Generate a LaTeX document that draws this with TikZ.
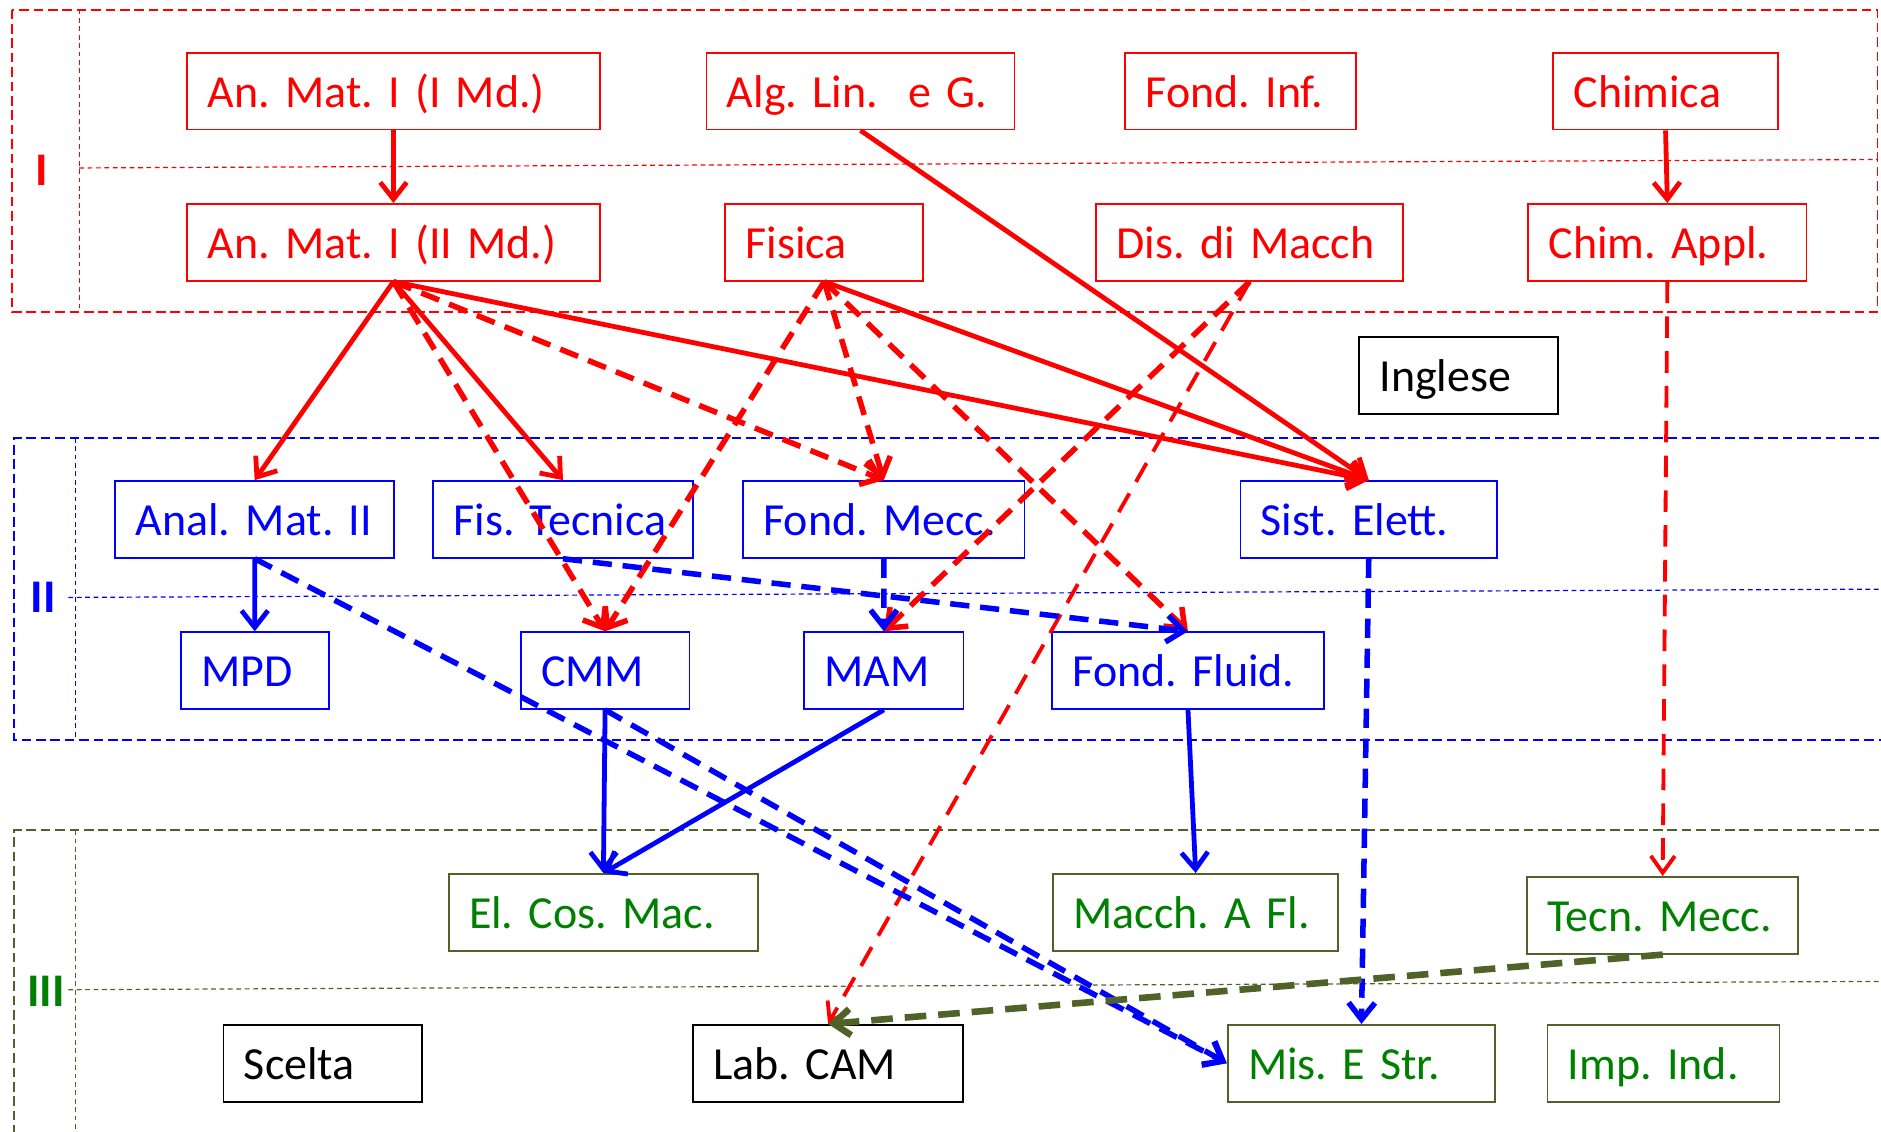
\documentclass[tikz,border=0pt]{standalone}
\usepackage{fontspec}
\setmainfont{Carlito}
\usetikzlibrary{arrows.meta}
\frenchspacing
\hyphenpenalty=10000
\exhyphenpenalty=10000

\definecolor{yearone}{RGB}{255,0,0}
\definecolor{yeartwo}{RGB}{0,0,255}
\definecolor{yearthree}{RGB}{0,128,0}
\definecolor{oliveline}{RGB}{79,98,40}

\begin{document}
\begin{tikzpicture}[x=1pt, y=-1pt,
		course/.style={draw, line width=1.5pt, minimum height=64pt, inner xsep=17pt, inner ysep=0pt,
			text width=#1, align=left, text height=27pt, text depth=0pt,
			font=\fontsize{38.3}{44}\selectfont},
		yearlabel/.style={font=\fontsize{39}{44}\selectfont\bfseries},
		yearframe/.style={line width=1.5pt, dash pattern=on 8pt off 4pt},
		yearsplit/.style={line width=1pt, dash pattern=on 4pt off 3pt},
		prereq/.style={line width=4pt, -{Straight Barb[length=14pt, width=22pt]}},
		suggest/.style={prereq, line width=4.6pt, dash pattern=on 16pt off 9pt},
		suggestthin/.style={line width=3.2pt, dash pattern=on 18pt off 11pt, -{Straight Barb[length=14pt, width=20pt]}}]
	\useasboundingbox (0,0) rectangle (1568,943);
	\clip (0,0) rectangle (1568,943);

	\begin{scope}[yearone]
		\draw [yearframe] (10,8) rectangle (1565,260);
		\draw [yearsplit] (66,8) -- (66,260);
		\draw [yearsplit] (66,140) -- (1565,133);
		\node [yearlabel] (yI) at (35,142) {I};
	\end{scope}

	\begin{scope}[yeartwo]
		\draw [yearframe] (1590,365) -- (12,365) -- (12,617) -- (1590,617);
		\draw [yearsplit] (63,365) -- (63,617);
		\draw [yearsplit] (57,498) -- (1590,491);
		\node [yearlabel] (yII) at (36,498) {II};
	\end{scope}

	\begin{scope}[oliveline]
		\draw [yearframe] (1590,692) -- (12,692) -- (12,960);
		\draw [yearsplit] (63,692) -- (63,960);
		\draw [yearsplit] (57,825) -- (1590,818);
		\node [yearlabel, yearthree] (yIII) at (38.5,826) {III};
	\end{scope}

	\begin{scope}[yearone]
		\node [course=310pt] (anmatA) at (328,76) {An. Mat. I (I Md.)};
		\node [course=222.6pt] (alglin) at (717.3,76) {Alg. Lin.~~e G.};
		\node [course=158.6pt] (fondinf) at (1034.3,76) {Fond. Inf.};
		\node [course=153.3pt] (chimica) at (1388.4,76) {Chimica};
		\node [course=310pt] (anmatB) at (328,202) {An. Mat. I (II Md.)};
		\node [course=131pt] (fisica) at (687.1,202) {Fisica};
		\node [course=222pt] (dismacch) at (1041.7,202) {Dis. di Macch};
		\node [course=198pt] (chimappl) at (1389.9,202) {Chim. Appl.};
	\end{scope}

	\node [course=132pt] (inglese) at (1216,313) {Inglese};

	\begin{scope}[yeartwo]
		\node [course=198.5pt] (analmat) at (212.3,433) {Anal. Mat. II};
		\node [course=182.6pt] (fistec) at (469.3,433) {Fis. Tecnica};
		\node [course=200.6pt] (fondmecc) at (736.7,433) {Fond. Mecc.};
		\node [course=180pt] (sistelett) at (1141,433) {Sist. Elett.};
		\node [course=89.3pt] (mpd) at (212.4,559) {MPD};
		\node [course=106.8pt] (cmm) at (504.4,559) {CMM};
		\node [course=98.8pt] (mam) at (736.8,559) {MAM};
		\node [course=192.2pt] (fondfluid) at (990.3,559) {Fond. Fluid.};
	\end{scope}

	\begin{scope}[draw=oliveline, text=yearthree]
		\node [course=224pt] (elcos) at (503,760.5) {El. Cos. Mac.};
		\node [course=203.8pt] (macch) at (996.7,760.5) {Macch. A Fl.};
		\node [course=192pt] (tecn) at (1386,763) {Tecn. Mecc.};
		\node [course=189.1pt] (mis) at (1134.9,886.3) {Mis. E Str.};
		\node [course=159.3pt] (imp) at (1386.7,886.3) {Imp. Ind.};
	\end{scope}

	\node [course=131.3pt] (scelta) at (269,886.3) {Scelta};
	\node [course=191.5pt] (labcam) at (690.3,886.3) {Lab. CAM};

	\begin{scope}[yearone]
		\draw [prereq] (anmatA.south) -- (anmatB.north);
		\draw [prereq] (chimica.south) -- (chimappl.north);
		\draw [prereq] (anmatB.south) -- (analmat.north);
		\draw [prereq] (anmatB.south) -- (fistec.north);
		\draw [prereq] (anmatB.south) -- (sistelett.north);
		\draw [prereq] (fisica.south) -- (sistelett.north);
		\draw [prereq] (alglin.south) -- (sistelett.north);

		\draw [suggest] (anmatB.south) -- (cmm.north);
		\draw [suggest] (anmatB.south) -- (fondmecc.north);
		\draw [suggest] (fisica.south) -- (cmm.north);
		\draw [suggest] (fisica.south) -- (fondmecc.north);
		\draw [suggest] (fisica.south) -- (fondfluid.north);
		\draw [suggest] (dismacch.south) -- (mam.north);
		\draw [suggestthin] (dismacch.south) -- (labcam.north);
		\draw [suggestthin] (chimappl.south) -- (tecn.north);
	\end{scope}

	\begin{scope}[yeartwo]
		\draw [prereq] (analmat.south) -- (mpd.north);
		\draw [prereq] (cmm.south) -- (elcos.north);
		\draw [prereq] (mam.south) -- (elcos.north);
		\draw [prereq] (fondfluid.south) -- (macch.north);

		\draw [suggest] (analmat.south) -- (mis.west);
		\draw [suggest] (cmm.south) -- (mis.west);
		\draw [suggest] (fistec.south) -- (fondfluid.north);
		\draw [suggest] (fondmecc.south) -- (mam.north);
		\draw [suggest] (sistelett.south) -- (mis.north);
	\end{scope}

	\draw [oliveline, suggest, line width=5.5pt, dash pattern=on 18pt off 10pt] (tecn.south) -- (labcam.north);
\end{tikzpicture}
\end{document}
